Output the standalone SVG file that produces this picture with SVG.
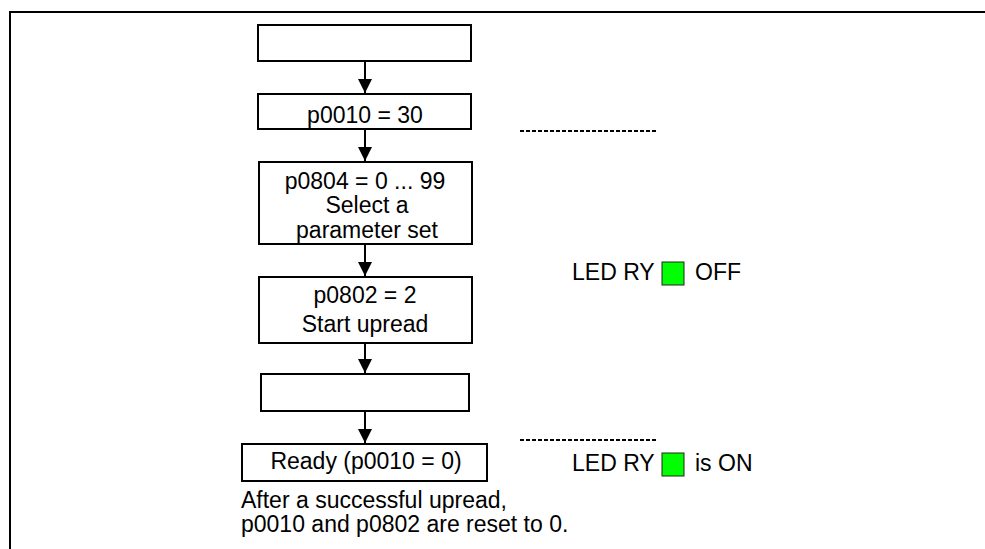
<svg xmlns="http://www.w3.org/2000/svg" width="985" height="549" viewBox="0 0 985 549">
<style>
text{font-family:"Liberation Sans",Arial,sans-serif;font-size:23px;fill:#000}
.c{text-anchor:middle}
.box{fill:#fff;stroke:#000;stroke-width:2}
.ln{stroke:#000;stroke-width:2;fill:none}
.dash{stroke:#000;stroke-width:2.2;stroke-dasharray:4 2;fill:none}
.led{fill:#00ff00;stroke:#222;stroke-width:1}
</style>
<defs>
<marker id="ah" viewBox="0 0 14 14" refX="14" refY="7" markerWidth="14" markerHeight="14" markerUnits="userSpaceOnUse" orient="auto">
<path d="M0,0 L14,7 L0,14 Z" fill="#000"/>
</marker>
</defs>
<g id="frame">
<line class="ln" x1="10" y1="12" x2="985" y2="12"/>
<line class="ln" x1="10" y1="11" x2="10" y2="549"/>
</g>
<g id="connectors">
<line class="ln" x1="365" y1="61" x2="365" y2="93" marker-end="url(#ah)"/>
<line class="ln" x1="365" y1="129" x2="365" y2="161" marker-end="url(#ah)"/>
<line class="ln" x1="365" y1="244" x2="365" y2="276" marker-end="url(#ah)"/>
<line class="ln" x1="365" y1="343" x2="365" y2="373" marker-end="url(#ah)"/>
<line class="ln" x1="365" y1="411" x2="365" y2="443" marker-end="url(#ah)"/>
</g>
<g id="n1"><rect class="box" x="258" y="25" width="213" height="36"/></g>
<g id="n2"><rect class="box" x="258" y="94" width="213" height="35"/><text class="c" x="365" y="123">p0010 = 30</text></g>
<g id="n3"><rect class="box" x="259" y="162" width="213" height="82"/>
<text class="c" x="365" y="189">p0804 = 0 ... 99</text>
<text class="c" x="367" y="213">Select a</text>
<text class="c" x="367" y="238">parameter set</text></g>
<g id="n4"><rect class="box" x="259" y="277" width="213" height="66"/>
<text class="c" x="365" y="303">p0802 = 2</text>
<text class="c" x="365" y="332">Start upread</text></g>
<g id="n5"><rect class="box" x="261" y="374" width="208" height="37"/></g>
<g id="n6"><rect class="box" x="242" y="444" width="245" height="37"/><text class="c" x="366" y="469">Ready (p0010 = 0)</text></g>
<g id="note">
<text x="241" y="508">After a successful upread,</text>
<text x="241" y="532">p0010 and p0802 are reset to 0.</text>
</g>
<g id="led-off">
<line class="dash" x1="520" y1="131" x2="656" y2="131"/>
<text x="572" y="280">LED RY</text>
<rect class="led" x="662" y="262" width="22" height="23"/>
<text x="695" y="280">OFF</text>
</g>
<g id="led-on">
<line class="dash" x1="520" y1="440" x2="656" y2="440"/>
<text x="572" y="471">LED RY</text>
<rect class="led" x="662" y="453" width="22" height="23"/>
<text x="695" y="471">is ON</text>
</g>
</svg>
